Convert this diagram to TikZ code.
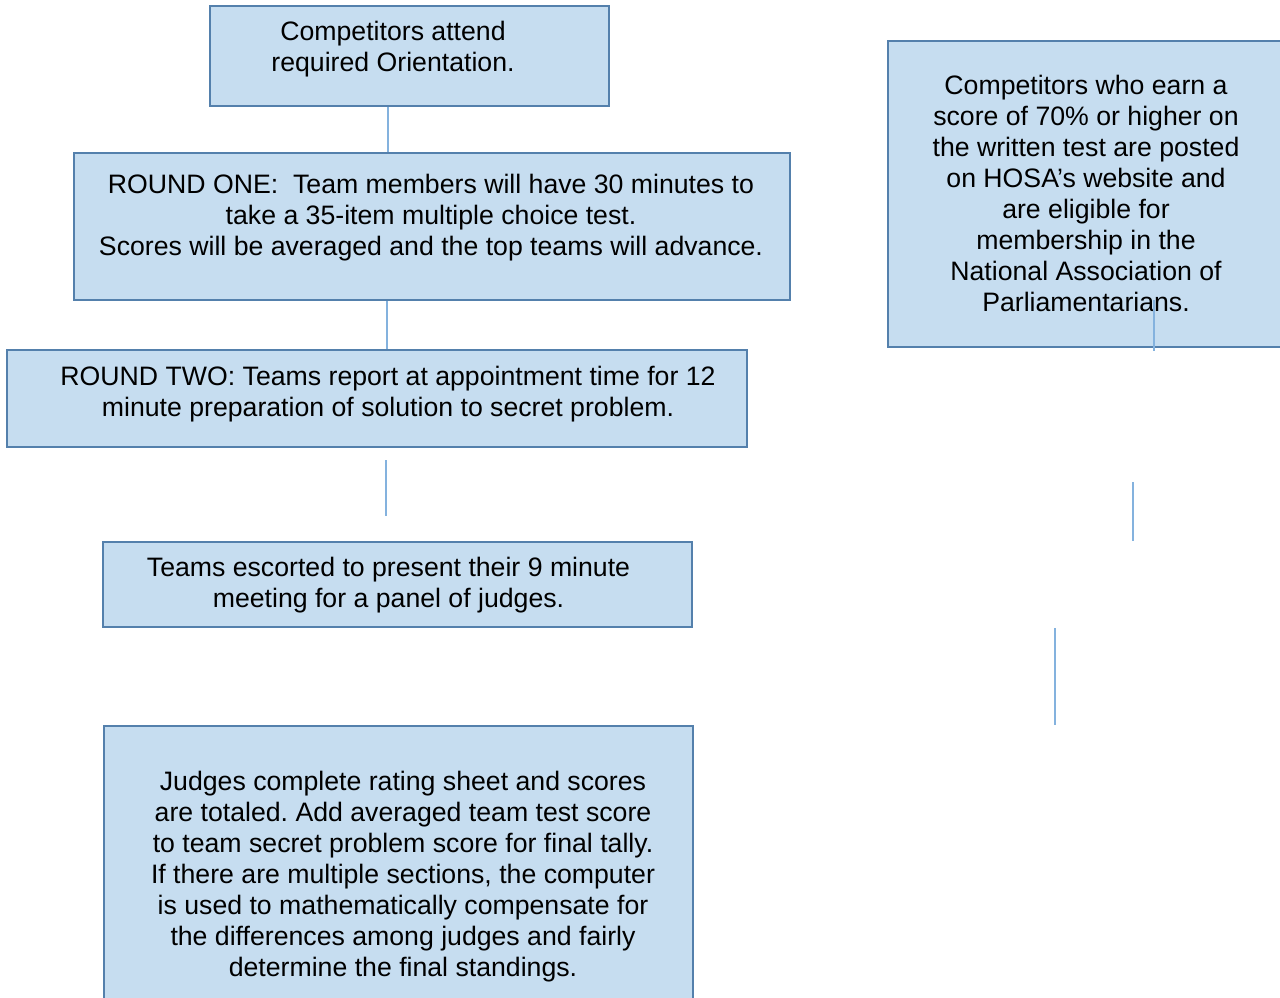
\documentclass[tikz,border=0pt]{standalone}
\usepackage{fontspec}
\setmainfont{Liberation Sans}
\frenchspacing
\definecolor{boxfill}{RGB}{198,221,240}
\definecolor{boxdraw}{RGB}{84,128,172}
\definecolor{linecol}{RGB}{132,178,222}
\tikzset{
  box/.style={draw=boxdraw, fill=boxfill, line width=2pt, rectangle, inner sep=0pt},
  txt/.style={align=center, inner sep=0pt, font=\fontsize{20pt}{23.25pt}\selectfont, text=black},
  conn/.style={draw=linecol, line width=1.4pt}
}
\begin{document}
\begin{tikzpicture}[x=0.75pt, y=-0.75pt]
\clip (0,0) rectangle (1280,997);
\fill[white] (0,0) rectangle (1280,997);
% boxes
\node[box, minimum width=299.25pt, minimum height=75pt] (b1) at (409.5,56) {};
\node[box, minimum width=537pt, minimum height=110.25pt] (b2) at (432,226.5) {};
\node[box, minimum width=555pt, minimum height=72.75pt] (b3) at (377,398.5) {};
\node[box, minimum width=441.75pt, minimum height=63.75pt] (b4) at (397.5,584.5) {};
\node[box, minimum width=441.75pt, minimum height=213pt] (b5) at (398.5,868) {};
\node[box, minimum width=305.25pt, minimum height=229.5pt] (b6) at (1091.5,194) {};
% texts
\node[txt] (t1) at (393,49) {Competitors attend\\required Orientation.};
\node[txt] (t2) at (431,218) {ROUND ONE:\ \ Team members will have 30 minutes to\\take a 35-item multiple choice test.\\Scores will be averaged and the top teams will advance.};
\node[txt] (t3) at (388,394) {ROUND TWO: Teams report at appointment time for 12\\minute preparation of solution to secret problem.};
\node[txt] (t4) at (388.5,585) {Teams escorted to present their 9 minute\\meeting for a panel of judges.};
\node[txt] (t5) at (403,877) {Judges complete rating sheet and scores\\are totaled. Add averaged team test score\\to team secret problem score for final tally.\\If there are multiple sections, the computer\\is used to mathematically compensate for\\the differences among judges and fairly\\determine the final standings.};
\node[txt] (t6) at (1086,193) {Competitors who earn a\\score of 70\% or higher on\\the written test are posted\\on HOSA’s website and\\are eligible for\\membership in the\\National Association of\\Parliamentarians.};
% connector x positions
\coordinate (x1) at (388,0);
\coordinate (x2) at (387,0);
% connectors
\draw[conn] (b1.south -| x1) -- (b2.north -| x1);
\draw[conn] (b2.south -| x2) -- (b3.north -| x2);
\coordinate (l3a) at (386,460);
\coordinate (l3b) at (386,516);
\draw[conn] (l3a) -- (l3b);
\coordinate (r1a) at (1154,300);
\coordinate (r1b) at (1154,351);
\draw[conn] (r1a) -- (r1b);
\coordinate (r2a) at (1133,482);
\coordinate (r2b) at (1133,541);
\draw[conn] (r2a) -- (r2b);
\coordinate (r3a) at (1055,628);
\coordinate (r3b) at (1055,725);
\draw[conn] (r3a) -- (r3b);
\end{tikzpicture}
\end{document}
